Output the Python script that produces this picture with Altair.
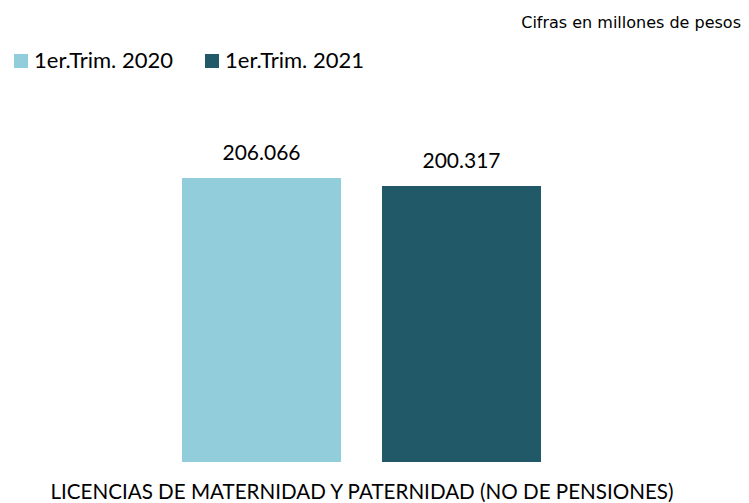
import altair as alt
import pandas as pd

series = ["1er.Trim. 2020", "1er.Trim. 2021"]
values = [206.066, 200.317]
colors = ["#92CDDC", "#215968"]
category = "LICENCIAS DE MATERNIDAD Y PATERNIDAD (NO DE PENSIONES)"
note = "Cifras en millones de pesos"

df = pd.DataFrame({"serie": series, "valor": values, "cat": [category] * len(series)})

x_enc = alt.X(
    "serie:N",
    sort=series,
    scale=alt.Scale(range=[174, 533], paddingInner=0.205, paddingOuter=0),
    axis=alt.Axis(
        labels=False, ticks=False, domain=False, grid=False,
        title=category, titleFont="Lato", titleFontSize=20.6, titleFontWeight="normal",
        titleColor="#000000", titlePadding=20,
    ),
)
y_enc = alt.Y(
    "valor:Q",
    scale=alt.Scale(domain=[0, 329.5], nice=False),
    axis=None,
)

bars = alt.Chart(df).mark_bar().encode(
    x=x_enc,
    y=y_enc,
    color=alt.Color(
        "serie:N",
        sort=series,
        scale=alt.Scale(domain=series, range=colors),
        legend=alt.Legend(
            title=None, orient="none", legendX=2, legendY=42, direction="horizontal",
            symbolType="square", symbolSize=196, symbolStrokeWidth=0,
            labelFont="Lato", labelFontSize=22, labelColor="#000000",
            labelOffset=2, columnPadding=28, symbolOpacity=1,
        ),
    ),
)

labels = alt.Chart(df).mark_text(
    font="Lato", fontSize=21, baseline="alphabetic", dy=-18, color="#000000"
).encode(
    x=x_enc,
    y=y_enc,
    text=alt.Text("valor:Q", format=".3f"),
)

note_df = pd.DataFrame({"t": [note]})
note_text = alt.Chart(note_df).mark_text(
    font="DejaVu Sans", fontSize=16, align="right", baseline="alphabetic", color="#000000"
).encode(
    x=alt.value(733),
    y=alt.value(20),
    text="t:N",
)

chart = alt.layer(bars, labels, note_text).properties(
    width=733,
    height=454,
    autosize=alt.AutoSizeParams(type="none"),
    padding={"left": 0, "top": 0, "right": 0, "bottom": 41},
).configure_view(stroke=None)

chart.save("out.html", embed_options={"renderer": "svg", "actions": False})
